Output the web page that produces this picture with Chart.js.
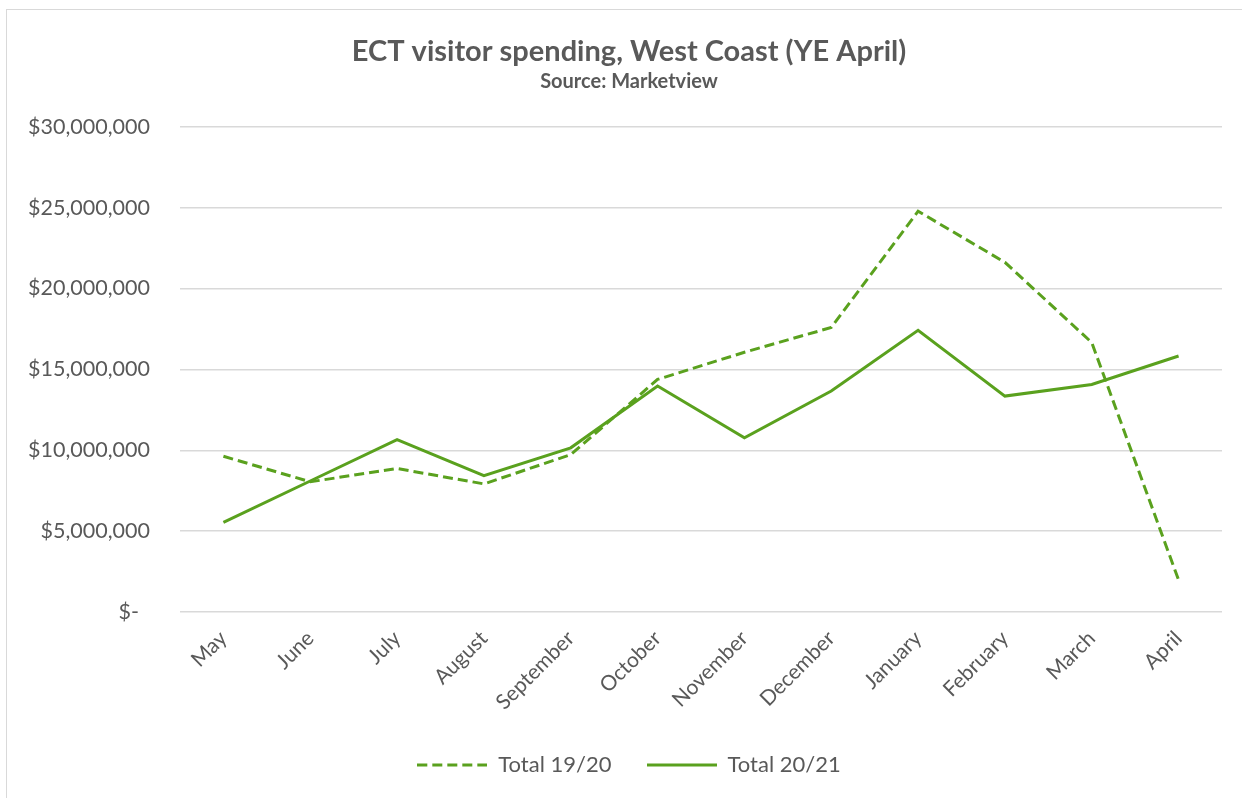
<!DOCTYPE html>
<html lang="en">
<head>
    <meta charset="UTF-8">
    <title>ECT visitor spending, West Coast</title>
    <script src="https://cdn.jsdelivr.net/npm/chart.js"></script>
    <style>
        html, body { margin: 0; padding: 0; background: #fff; overflow: hidden; }
        .frame {
            position: absolute; left: 6px; top: 9px;
            width: 1244px; height: 800px;
            border: 1px solid #D9D9D9;
        }
    </style>
</head>
<body>
    <div class="frame">
        <canvas id="spendChart" width="1244" height="778"></canvas>
    </div>

    <script>
        // data
        const months = ['May', 'June', 'July', 'August', 'September', 'October', 'November', 'December', 'January', 'February', 'March', 'April'];
        const total1920 = [9630000, 8050000, 8870000, 7920000, 9730000, 14380000, 16060000, 17590000, 24780000, 21620000, 16660000, 1980000];
        const total2021 = [5540000, 8100000, 10660000, 8430000, 10150000, 13970000, 10770000, 13660000, 17420000, 13350000, 14070000, 15830000];
        const yTicks = [0, 5000000, 10000000, 15000000, 20000000, 25000000, 30000000];
        const yTickLabels = ['$-  ', '$5,000,000', '$10,000,000', '$15,000,000', '$20,000,000', '$25,000,000', '$30,000,000'];

        const green = '#5AA11E';
        const grey = '#595959';
        const dash = [10, 5];
        Chart.defaults.font.family = 'Lato, "Open Sans", sans-serif';
        Chart.defaults.color = grey;

        // small line swatches for the legend (the legend does not dash point styles itself)
        function legendLine(pattern) {
            const c = document.createElement('canvas');
            c.width = 70;
            c.height = 4;
            const g = c.getContext('2d');
            g.strokeStyle = green;
            g.lineWidth = 3;
            g.setLineDash(pattern);
            g.beginPath();
            g.moveTo(0, 2);
            g.lineTo(70, 2);
            g.stroke();
            return c;
        }

        new Chart(document.getElementById('spendChart'), {
            type: 'line',
            data: {
                labels: months,
                datasets: [{
                    label: 'Total 19/20',
                    data: total1920,
                    borderColor: green,
                    backgroundColor: green,
                    borderWidth: 3,
                    borderDash: dash,
                    pointRadius: 0,
                    pointStyle: legendLine(dash),
                    tension: 0
                }, {
                    label: 'Total 20/21',
                    data: total2021,
                    borderColor: green,
                    backgroundColor: green,
                    borderWidth: 3,
                    pointRadius: 0,
                    pointStyle: legendLine([]),
                    tension: 0
                }]
            },
            options: {
                responsive: false,
                animation: false,
                layout: { padding: { top: 0, right: 0, bottom: 2, left: 0 } },
                plugins: {
                    title: {
                        display: true,
                        text: 'ECT visitor spending, West Coast (YE April)',
                        color: grey,
                        font: { size: 29, weight: 'bold' },
                        padding: { top: 24, bottom: 1 }
                    },
                    subtitle: {
                        display: true,
                        text: 'Source: Marketview',
                        color: grey,
                        font: { size: 20, weight: 'bold' },
                        padding: { top: 0, bottom: 33 }
                    },
                    legend: {
                        position: 'bottom',
                        labels: {
                            usePointStyle: true,
                            pointStyleWidth: 70,
                            padding: 35,
                            color: grey,
                            font: { size: 22 }
                        }
                    },
                    tooltip: { enabled: false }
                },
                scales: {
                    x: {
                        offset: true,
                        grid: { display: false },
                        border: { display: false },
                        ticks: {
                            autoSkip: false,
                            minRotation: 45,
                            maxRotation: 45,
                            padding: 6,
                            color: grey,
                            font: { size: 21 }
                        },
                        afterFit: (scale) => { scale.height = 107; }
                    },
                    y: {
                        min: 0,
                        max: 30000000,
                        grid: { color: '#D9D9D9', lineWidth: 1.5, drawTicks: false },
                        border: { display: false },
                        afterBuildTicks: (scale) => { scale.ticks = yTicks.map(v => ({ value: v })); },
                        ticks: {
                            padding: 30,
                            color: grey,
                            font: { size: 21.5 },
                            callback: (value) => yTickLabels[yTicks.indexOf(value)]
                        },
                        afterFit: (scale) => { scale.width = 173; }
                    },
                    // empty right axis, only reserves the space right of the plot
                    yRight: {
                        position: 'right',
                        display: true,
                        grid: { display: false },
                        border: { display: false },
                        ticks: { display: false },
                        afterFit: (scale) => { scale.width = 29; }
                    }
                }
            }
        });
    </script>
</body>
</html>
